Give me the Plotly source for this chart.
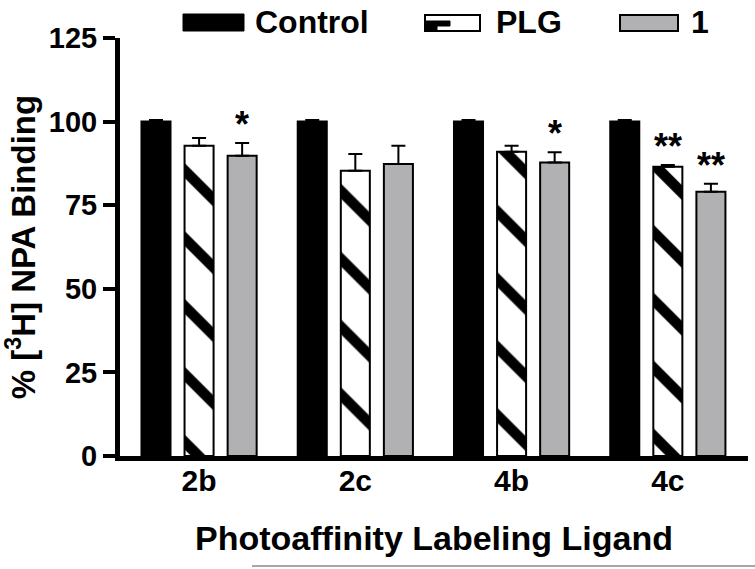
import plotly.graph_objects as go

# data
ligands = ['2b', '2c', '4b', '4c']
control = [100, 100, 100, 100]
control_err = [0.5, 0.5, 0.5, 0.5]
plg = [92.8, 85.3, 91.0, 86.5]
plg_err = [2.3, 5.0, 1.8, 0.5]
cmpd1 = [89.8, 87.3, 87.8, 79.0]
cmpd1_err = [3.8, 5.5, 3.0, 2.4]
plg_sig = ['', '', '', '**']
cmpd1_sig = ['*', '', '*', '**']

# page size and plot box in pixels
W, H = 755, 569
L, R, T, B = 120, 7, 38, 113
font_fam = 'Liberation Sans, Arial, Helvetica, sans-serif'
gray = '#b1b1b3'


def px(x):
    # pixel x -> paper coordinate
    return (x - L) / (W - L - R)


def py(y):
    # pixel y -> paper coordinate
    return (H - B - y) / (H - T - B)


fig = go.Figure()

fig.add_trace(go.Bar(
    x=ligands, y=control, name='Control',
    marker=dict(color='black', line=dict(color='black', width=2)),
    error_y=dict(type='data', symmetric=False, array=control_err,
                 arrayminus=[0] * 4, color='black', thickness=2, width=7)))

fig.add_trace(go.Bar(
    x=ligands, y=plg, name='PLG',
    marker=dict(color='white', line=dict(color='black', width=2),
                pattern=dict(shape='\\', fgcolor='black', bgcolor='white',
                             fgopacity=1, size=48, solidity=0.22)),
    error_y=dict(type='data', symmetric=False, array=plg_err,
                 arrayminus=[0] * 4, color='black', thickness=2, width=7)))

fig.add_trace(go.Bar(
    x=ligands, y=cmpd1, name='1',
    marker=dict(color=gray, line=dict(color='black', width=2)),
    error_y=dict(type='data', symmetric=False, array=cmpd1_err,
                 arrayminus=[0] * 4, color='black', thickness=2, width=7)))

# significance stars
offset = 0.276
for i in range(len(ligands)):
    for dx, vals, errs, sig in [(0, plg, plg_err, plg_sig),
                                (offset, cmpd1, cmpd1_err, cmpd1_sig)]:
        if sig[i]:
            fig.add_annotation(x=i + dx, y=vals[i] + errs[i], text=sig[i],
                               showarrow=False, yanchor='bottom', yshift=-4,
                               font=dict(family=font_fam, size=36, color='black'))

# legend drawn by hand (wide keys as in the reference)
fig.add_shape(type='rect', xref='paper', yref='paper',
              x0=px(183), x1=px(244), y0=py(31), y1=py(14),
              fillcolor='black', line=dict(color='black', width=1))
fig.add_shape(type='rect', xref='paper', yref='paper',
              x0=px(425), x1=px(480), y0=py(31), y1=py(15),
              fillcolor='white', line=dict(color='black', width=2))
fig.add_shape(type='path', xref='paper', yref='paper',
              path='M {} {} L {} {} L {} {} L {} {} L {} {} L {} {} Z'.format(
                  px(425), py(21), px(450), py(21), px(450), py(26),
                  px(437), py(26), px(437), py(31), px(425), py(31)),
              fillcolor='black', line=dict(color='black', width=1))
fig.add_shape(type='rect', xref='paper', yref='paper',
              x0=px(620), x1=px(678), y0=py(31), y1=py(15),
              fillcolor=gray, line=dict(color='black', width=2))
for label, x0 in [('Control', 253), ('PLG', 494), ('1', 689)]:
    fig.add_annotation(x=px(x0), y=py(22), xref='paper', yref='paper',
                       text='<b>' + label + '</b>', showarrow=False,
                       xanchor='left', yanchor='middle',
                       font=dict(family=font_fam, size=32, color='black'))

# stray gray rule at the bottom of the scan
fig.add_shape(type='line', xref='paper', yref='paper',
              x0=px(252), x1=px(760), y0=py(566), y1=py(566),
              line=dict(color='#8a8a8a', width=1.5))

fig.update_layout(
    width=W, height=H,
    margin=dict(l=L, r=R, t=T, b=B, autoexpand=False),
    paper_bgcolor='white', plot_bgcolor='white',
    barmode='group', bargap=0.173, bargroupgap=0.326,
    showlegend=False,
    font=dict(family=font_fam, color='black', weight='bold'),
)

fig.update_xaxes(
    range=[-0.506, 3.513],
    showline=True, linecolor='black', linewidth=5,
    ticks='', ticklabelstandoff=-6,
    tickfont=dict(family=font_fam, size=30, weight='bold'),
    title=dict(text='<b>Photoaffinity Labeling Ligand</b>', standoff=32,
               font=dict(family=font_fam, size=34)),
    showgrid=False, zeroline=False)

fig.update_yaxes(
    range=[0, 125], tickvals=[0, 25, 50, 75, 100, 125],
    showline=True, linecolor='black', linewidth=5,
    ticks='outside', ticklen=12, tickwidth=4, tickcolor='black',
    tickfont=dict(family=font_fam, size=29, weight='bold'),
    title=dict(text='<b>% [<sup>3</sup>H] NPA Binding</b>', standoff=10,
               font=dict(family=font_fam, size=33)),
    showgrid=False, zeroline=False)

# drop the default body margin so the figure sits at the page corner
fig.write_html('out.html', config={'displayModeBar': False},
               post_script="document.body.style.margin = '0';")
